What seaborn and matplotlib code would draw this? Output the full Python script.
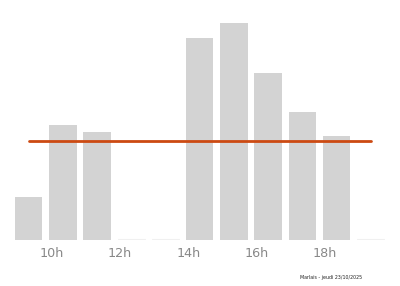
import matplotlib
matplotlib.use("Agg")
import matplotlib.pyplot as plt
import seaborn as sns
import numpy as np
import pandas as pd

hours = [9, 10, 11, 12, 13, 14, 15, 16, 17, 18, 19]
values = [20, 53, 50, 0, 0, 93, 100, 77, 59, 48, 0]
tick_hours = [10, 12, 14, 16, 18]
tick_labels = ["10h", "12h", "14h", "16h", "18h"]
footer = "Marlais - jeudi 23/10/2025"

sns.set_theme(style="white")
plt.rcParams['font.family'] = ['DejaVu Sans']

df = pd.DataFrame({"hour": hours, "value": values})

fig = plt.figure(figsize=(4.0, 2.86), dpi=100)
ax = fig.add_axes([0, 46 / 286, 1, 240 / 286])

ax.bar(df["hour"], df["value"], width=0.8, align="edge", color="#d3d3d3",
       edgecolor="none")
for h, v in zip(hours, values):
    if v == 0:
        ax.plot([h, h + 0.8], [0.3, 0.3], color="#f0f0f0", lw=0.8)

mean_val = np.mean(values)
sns.lineplot(x=[hours[0] + 0.4, hours[-1] + 0.4], y=[mean_val, mean_val],
             ax=ax, color="#cc4a12", lw=2)

ax.set_xlim(8.56, 20.26)
ax.set_ylim(0, 100 * 240 / 217)
ax.set_xticks([t + 0.07 for t in tick_hours])
ax.set_xticklabels(tick_labels, color="#888888", fontsize=9.2)
ax.set_yticks([])
ax.tick_params(axis="x", length=0, pad=5)
for s in ax.spines.values():
    s.set_visible(False)
ax.set_xlabel("")
ax.set_ylabel("")

fig.text(300 / 400, 1 - 278 / 286, footer, fontsize=3.4, color="#222222",
         va="center", ha="left")

fig.savefig("out.png", dpi=100)
